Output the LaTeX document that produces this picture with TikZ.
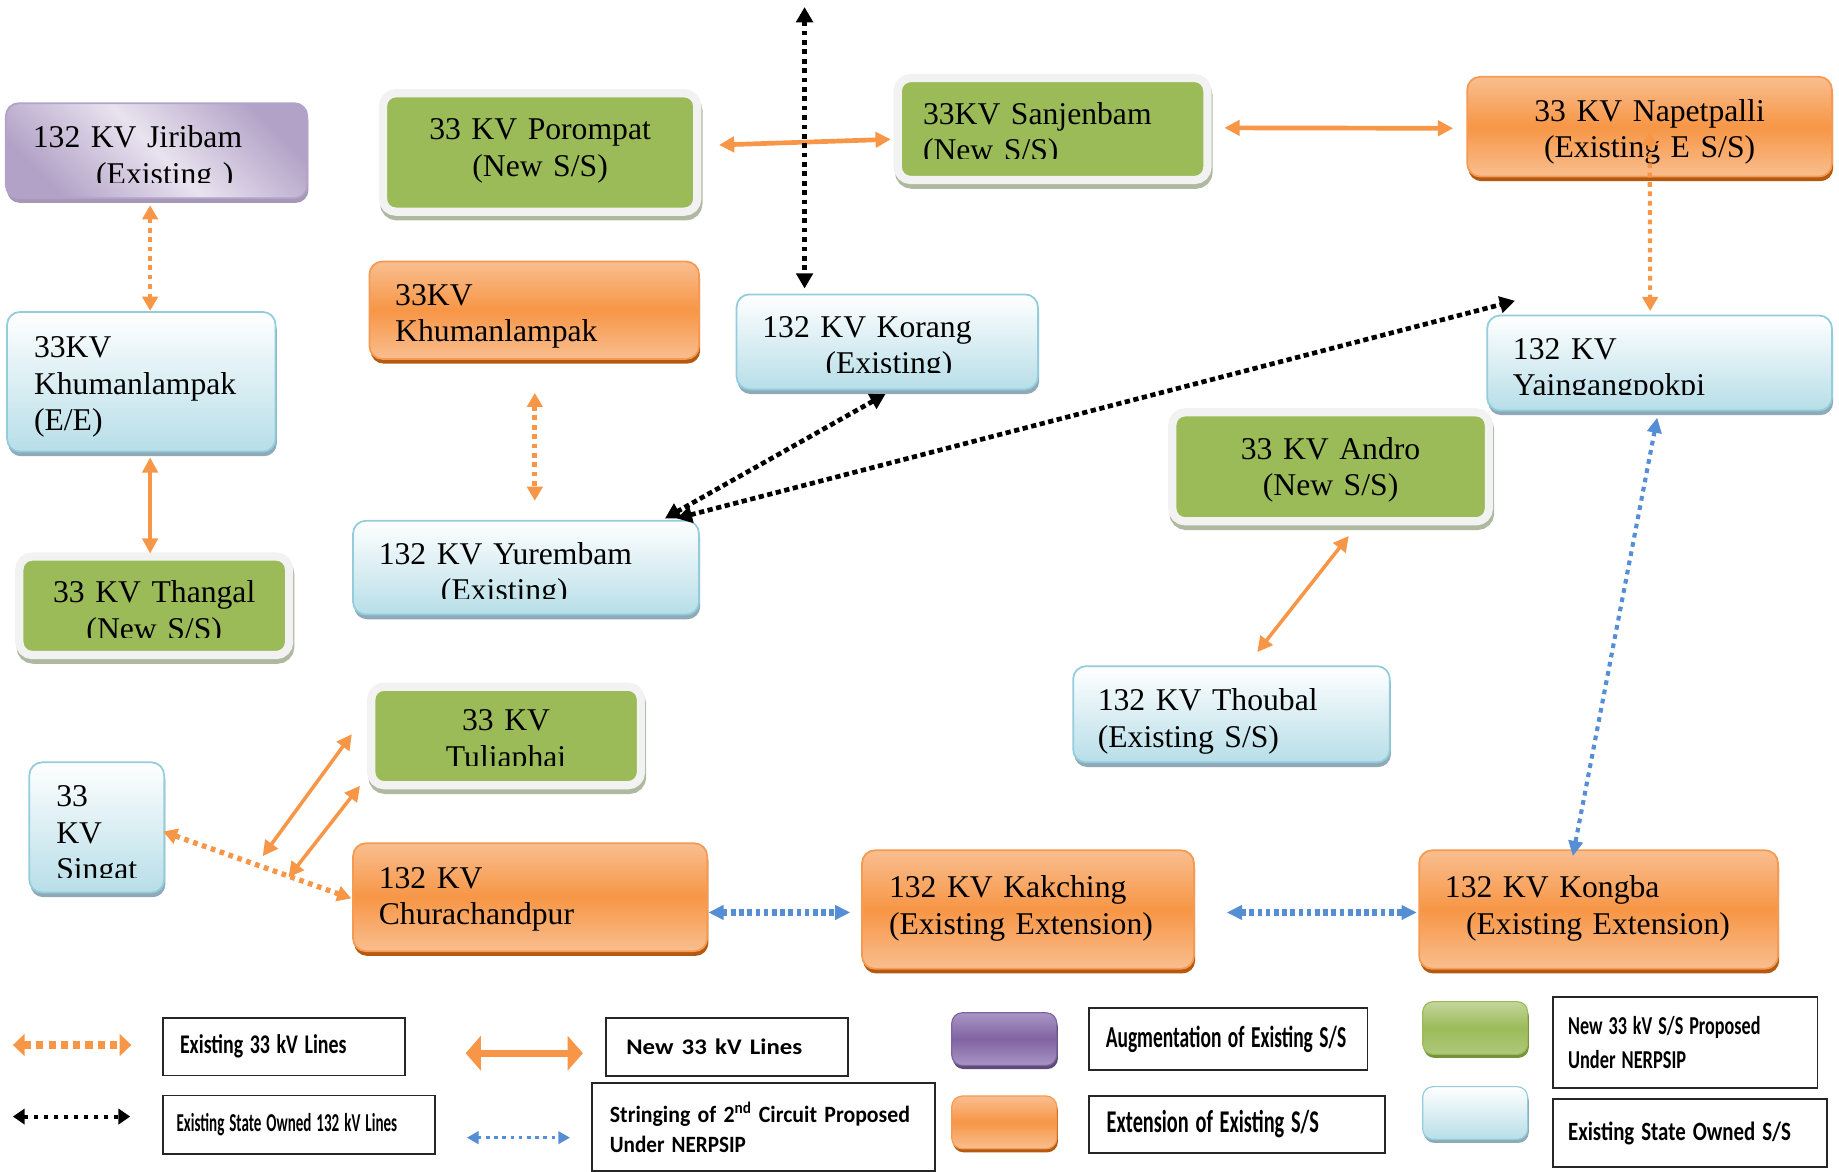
\documentclass[tikz,border=0pt]{standalone}
\usepackage{fontspec}
\setmainfont{Liberation Serif}
\newfontfamily\legfont{Carlito}
\usepackage{graphicx}
\usetikzlibrary{positioning,calc,arrows.meta,shadows}

\definecolor{augdark}{HTML}{B3A2C7}
\definecolor{auglight}{HTML}{E8E3EF}
\definecolor{augline}{HTML}{B3A2C7}
\definecolor{augshade}{HTML}{A597B6}
\definecolor{extmid}{HTML}{F79646}
\definecolor{extlight}{HTML}{F9BE8F}
\definecolor{extline}{HTML}{F59A50}
\definecolor{extshade}{HTML}{B35A10}
\definecolor{statebot}{HTML}{B7DEE8}
\definecolor{stateline}{HTML}{93CDDD}
\definecolor{stateshade}{HTML}{8FAAB6}
\definecolor{newgreen}{HTML}{9BBB59}
\definecolor{newframe}{HTML}{F2F2F2}
\definecolor{newshade}{HTML}{AEB9A0}
\definecolor{lineorange}{HTML}{F79646}
\definecolor{lineblue}{HTML}{558ED5}
\definecolor{swpurple}{HTML}{8064A2}
\definecolor{swpurplelt}{HTML}{A995C4}
\definecolor{swpurpledk}{HTML}{5F497A}
\definecolor{swgreenlt}{HTML}{C3D69B}
\definecolor{swgreendk}{HTML}{76923C}

\newcommand{\ssfont}{\fontsize{27}{31}\selectfont}
\newcommand{\legsq}[2]{\resizebox{#1}{\height}{#2}}

\tikzset{
  station/.style={rectangle, rounded corners=11pt, inner sep=0pt, outer sep=0pt},
  augss/.style={station, draw=augline, line width=1.5pt,
    left color=augdark, right color=augdark, middle color=auglight, shading angle=135,
    drop shadow={shadow xshift=1pt, shadow yshift=-4pt, fill=augshade, opacity=1}},
  extss/.style={station, draw=extline, line width=1.5pt,
    top color=extlight, bottom color=extlight, middle color=extmid,
    drop shadow={shadow xshift=1pt, shadow yshift=-4pt, fill=extshade, opacity=1}},
  statess/.style={station, draw=stateline, line width=1.5pt, top color=white, bottom color=statebot,
    drop shadow={shadow xshift=1pt, shadow yshift=-4pt, fill=stateshade, opacity=1}},
  newss/.style={station, fill=newgreen, draw=newframe, line width=7pt,
    drop shadow={shadow xshift=1pt, shadow yshift=-4pt, fill=newshade, draw=newshade,
      line width=7pt, opacity=1}},
  sslabel/.style={inner sep=0pt, font=\ssfont, align=left},
  exist33/.style={draw=lineorange, line width=4pt, dash pattern=on 4pt off 4pt,
    >={Triangle[width=13pt,length=12pt]}, <->},
  new33/.style={draw=lineorange, line width=3.5pt, >={Triangle[width=13pt,length=13pt]}, <->},
  state132/.style={draw=black, line width=4pt, dash pattern=on 4pt off 4pt,
    >={Triangle[width=14pt,length=13pt]}, <->},
  string2/.style={draw=lineblue, line width=4pt, dash pattern=on 4pt off 4pt,
    >={Triangle[width=12pt,length=13pt]}, <->},
  legbox/.style={rectangle, draw=black!85, line width=1.6pt, fill=white, inner ysep=0pt,
    outer sep=0pt, align=left, anchor=north west},
  swatch/.style={rectangle, rounded corners=9pt, anchor=north west, outer sep=0pt,
    line width=1pt, minimum width=89.5pt, minimum height=45pt},
}

\begin{document}
\begin{tikzpicture}[x=1pt, y=-1pt]
  \useasboundingbox (0,0) rectangle (1568,999);

  %%%%%%%%%%%%%%%%%%%%%%%%%%%%%%%%%%%%%%%%%%%%%%%%%%%%%%%%%%%%%%%%%%%%%%
  %%%%%%%%%%% substations
  %%%%%%%%%%%%%%%%%%%%%%%%%%%%%%%%%%%%%%%%%%%%%%%%%%%%%%%%%%%%%%%%%%%%%%

  % Jiribam
  \node[augss, minimum width=257pt, minimum height=81pt] (jiri) at (133.5,128.5) {};
  \begin{scope}
    \clip (jiri.north west) rectangle ($(jiri.east)+(0,27)$);
    \node[sslabel, text width=211pt] (jiri-t) at ([yshift=-6.5pt]jiri.center)
      {132 KV Jiribam\\\hspace*{54pt}(Existing )};
  \end{scope}

  % Porompat
  \node[newss, minimum width=268pt, minimum height=101pt] (poro) at (460.5,130) {};
  \node[sslabel, align=center, text width=240pt] (poro-t) at ([yshift=1.5pt]poro.center)
    {33 KV Porompat\\(New S/S)};

  % Sanjenbam
  \node[newss, minimum width=264pt, minimum height=87pt] (sanj) at (897.5,110) {};
  \begin{scope}
    \clip (sanj.north west) rectangle ($(sanj.east)+(0,25.5)$);
    \node[sslabel, text width=221pt] (sanj-t) at ([yshift=-5pt]sanj.center)
      {33KV Sanjenbam\\(New S/S)};
  \end{scope}

  % Napetpalli
  \node[extss, minimum width=311pt, minimum height=85pt] (napet) at (1406.5,108) {};
  \node[sslabel, align=center, text width=280pt] (napet-t) at ([yshift=-4.5pt]napet.center)
    {33 KV Napetpalli\\(Existing E S/S)};

  % Khumanlampak (extension)
  \node[extss, minimum width=281pt, minimum height=83pt] (khum) at (455.5,264.5) {};
  \node[sslabel, text width=237pt] (khum-t) at ([yshift=-5.5pt]khum.center)
    {33KV\\Khumanlampak};

  % Korang
  \node[statess, minimum width=257pt, minimum height=81pt] (korang) at (756.5,291.5) {};
  \begin{scope}
    \clip (korang.north west) rectangle ($(korang.east)+(0,26)$);
    \node[sslabel, text width=213pt] (korang-t) at ([yshift=-5.5pt]korang.center)
      {132 KV Korang\\\hspace*{54pt}(Existing)};
  \end{scope}

  % Yaingangpokpi
  \node[statess, minimum width=294pt, minimum height=81pt] (yaing) at (1415,309.5) {};
  \begin{scope}
    \clip (yaing.north west) rectangle ($(yaing.east)+(0,26.5)$);
    \node[sslabel, text width=250pt] (yaing-t) at ([yshift=-6.5pt]yaing.center)
      {132 KV\\Yaingangpokpi};
  \end{scope}

  % Khumanlampak (E/E)
  \node[statess, minimum width=229pt, minimum height=119pt] (khumee) at (120.5,325.5) {};
  \node[sslabel, text width=183pt] (khumee-t) at ([yshift=-4.4pt]khumee.center)
    {33KV\\Khumanlampak\\(E/E)};

  % Andro
  \node[newss, minimum width=270pt, minimum height=93pt] (andro) at (1134.5,398) {};
  \node[sslabel, align=center, text width=240pt] (andro-t) at ([yshift=-2.5pt]andro.center)
    {33 KV Andro\\(New S/S)};

  % Yurembam
  \node[statess, minimum width=295pt, minimum height=80pt] (yurem) at (448.5,484) {};
  \begin{scope}
    \clip (yurem.north west) rectangle ($(yurem.east)+(0,26.5)$);
    \node[sslabel, text width=251pt] (yurem-t) at ([yshift=-6pt]yurem.center)
      {132 KV Yurembam\\\hspace*{53pt}(Existing)};
  \end{scope}

  % Thangal
  \node[newss, minimum width=230pt, minimum height=84pt] (thang) at (131.5,516.5) {};
  \begin{scope}
    \clip (thang.north west) rectangle ($(thang.east)+(0,27)$);
    \node[sslabel, align=center, text width=210pt] (thang-t) at ([yshift=-6.5pt]thang.center)
      {33 KV Thangal\\(New S/S)};
  \end{scope}

  % Thoubal
  \node[statess, minimum width=270pt, minimum height=82pt] (thoub) at (1050,609) {};
  \node[sslabel, text width=228pt] (thoub-t) at ([yshift=-6pt]thoub.center)
    {132 KV Thoubal\\(Existing S/S)};

  % Tuliaphai
  \node[newss, minimum width=230pt, minimum height=84pt] (tuli) at (431.5,627.5) {};
  \begin{scope}
    \clip (tuli.north west) rectangle ($(tuli.east)+(0,25.5)$);
    \node[sslabel, align=center, text width=210pt] (tuli-t) at ([yshift=-5pt]tuli.center)
      {33 KV\\Tuliaphai};
  \end{scope}

  % Singat
  \node[statess, minimum width=115pt, minimum height=111pt] (singat) at (82.5,705.5) {};
  \begin{scope}
    \clip (singat.north west) rectangle ($(singat.east)+(0,42.5)$);
    \node[sslabel, text width=69pt] (singat-t) at ([yshift=-7.4pt]singat.center)
      {33\\KV\\Singat};
  \end{scope}

  % Churachandpur
  \node[extss, minimum width=302pt, minimum height=92pt] (chura) at (452,765) {};
  \node[sslabel, text width=258pt] (chura-t) at ([yshift=-2pt]chura.center)
    {132 KV\\Churachandpur};

  % Kakching
  \node[extss, minimum width=283pt, minimum height=101pt] (kakch) at (876.5,775.5) {};
  \node[sslabel, text width=237pt] (kakch-t) at ([yshift=1pt]kakch.center)
    {132 KV Kakching\\(Existing Extension)};

  % Kongba
  \node[extss, minimum width=306pt, minimum height=101pt] (kongba) at (1363,775.5) {};
  \node[sslabel, text width=262pt] (kongba-t) at ([yshift=1pt]kongba.center)
    {132 KV Kongba\\\hspace*{18pt}(Existing Extension)};

  %%%%%%%%%%%%%%%%%%%%%%%%%%%%%%%%%%%%%%%%%%%%%%%%%%%%%%%%%%%%%%%%%%%%%%
  %%%%%%%%%%% lines
  %%%%%%%%%%%%%%%%%%%%%%%%%%%%%%%%%%%%%%%%%%%%%%%%%%%%%%%%%%%%%%%%%%%%%%

  % line between Jiribam and Khumanlampak (E/E)
  \draw[exist33] ([xshift=-5.5pt,yshift=-6pt]jiri.south) -- ([xshift=7.5pt,yshift=1pt]khumee.north);

  % line between Khumanlampak (E/E) and Thangal
  \draw[new33] ([xshift=7.5pt,yshift=-5pt]khumee.south) -- ([xshift=-3.5pt,yshift=2.5pt]thang.north);

  % line between Khumanlampak and Yurembam
  \draw[exist33] ([xshift=0.5pt,yshift=-29pt]khum.south) -- ([xshift=7.5pt,yshift=17pt]yurem.north);

  % line between Porompat and Sanjenbam
  \draw[new33, line width=4pt] ([xshift=18.5pt,yshift=6.4pt]poro.east) -- ([xshift=-6pt,yshift=-8.8pt]sanj.west);

  % line between Sanjenbam and Napetpalli
  \draw[new33, line width=4pt] ([xshift=14.5pt,yshift=1pt]sanj.east) -- ([xshift=-12pt,yshift=-1.4pt]napet.west);

  % line between Napetpalli and Yaingangpokpi
  \draw[exist33, line width=3.5pt] ([yshift=-4pt]napet.center) -- ([xshift=-8pt,yshift=3.8pt]yaing.north);

  % line between Andro and Thoubal
  \draw[new33, line width=3pt] ([xshift=15.5pt,yshift=-12.5pt]andro.south) -- ([xshift=22pt,yshift=12pt]thoub.north);

  % lines between Tuliaphai and Churachandpur
  \draw[new33, line width=3pt] ([xshift=-16.5pt,yshift=1.5pt]tuli.west) -- ([xshift=-77pt,yshift=35pt]chura.west);
  \draw[new33, line width=3pt] ([xshift=-9.5pt,yshift=-0.5pt]tuli.south west) -- ([xshift=-55pt,yshift=17pt]chura.west);

  % line between Singat and Churachandpur
  \draw[exist33, line width=4.5pt] ([xshift=-1pt,yshift=-3.5pt]singat.east) -- ([xshift=-1.5pt,yshift=-1pt]chura.west);

  % 132 kV line leaving Korang to the north
  \coordinate (korang-up) at (686,6);
  \draw[state132] (korang-up) -- ([xshift=-70.5pt,yshift=5pt]korang.north);

  % line between Korang and Yurembam
  \draw[state132, dash pattern=on 4.5pt off 3pt] ([xshift=-1.5pt,yshift=-4pt]korang.south) -- ([xshift=118.5pt,yshift=2pt]yurem.north);

  % line between Yurembam and Yaingangpokpi
  \draw[state132, dash pattern=on 4.5pt off 3pt] ([xshift=128.5pt,yshift=2pt]yurem.north) -- ([xshift=23.8pt,yshift=12.5pt]yaing.north west);

  % line between Yaingangpokpi and Kongba
  \draw[string2, line width=3.5pt] ([xshift=-2pt,yshift=-6pt]yaing.south) -- ([xshift=-22pt,yshift=-5pt]kongba.north);

  % line between Churachandpur and Kakching
  \draw[string2, line width=6pt, dash pattern=on 4pt off 3pt] ([xshift=1pt,yshift=-13pt]chura.east) -- ([xshift=-10pt,yshift=-2.5pt]kakch.west);

  % line between Kakching and Kongba
  \draw[string2, line width=6pt, dash pattern=on 4pt off 3pt] ([xshift=28pt,yshift=-2.5pt]kakch.east) -- ([xshift=-2pt,yshift=-2.5pt]kongba.west);

  %%%%%%%%%%%%%%%%%%%%%%%%%%%%%%%%%%%%%%%%%%%%%%%%%%%%%%%%%%%%%%%%%%%%%%
  %%%%%%%%%%% legend
  %%%%%%%%%%%%%%%%%%%%%%%%%%%%%%%%%%%%%%%%%%%%%%%%%%%%%%%%%%%%%%%%%%%%%%

  % existing 33 kV
  \coordinate (lg-ex-a) at (11,891);
  \coordinate (lg-ex-b) at (112,891);
  \draw[exist33, line width=6pt, dash pattern=on 6pt off 4.5pt,
    >={Triangle[width=18.5pt,length=10pt]}, <->] (lg-ex-a) -- (lg-ex-b);
  \node[legbox, minimum width=206pt, minimum height=49pt, text width=177pt, inner xsep=14.5pt,
    font={\legfont\bfseries\fontsize{23}{27}\selectfont}] (lg-ex) at (139,868)
    {\legsq{142pt}{Existing 33 kV Lines}};

  % new 33 kV
  \coordinate (lg-new-a) at (397,898);
  \coordinate (lg-new-b) at (497,898);
  \draw[new33, line width=6pt, >={Triangle[width=29pt,length=13pt]}, <->] (lg-new-a) -- (lg-new-b);
  \node[legbox, minimum width=206pt, minimum height=49.5pt, text width=172pt, inner xsep=17pt,
    font={\legfont\bfseries\fontsize{19}{23}\selectfont}] (lg-new) at (517,868)
    {\legsq{150pt}{New 33 kV Lines}};

  % state owned 132 kV
  \coordinate (lg-st-a) at (11,952);
  \coordinate (lg-st-b) at (111,952);
  \draw[state132, line width=3.5pt, dash pattern=on 3.5pt off 5pt,
    >={Triangle[width=13pt,length=10pt]}, <->] (lg-st-a) -- (lg-st-b);
  \node[legbox, minimum width=232pt, minimum height=50pt, text width=208.8pt, inner xsep=11.6pt,
    font={\legfont\bfseries\fontsize{22}{26}\selectfont}] (lg-st) at (139,934)
    {\legsq{188pt}{Existing State Owned 132 kV Lines}};

  % second circuit
  \coordinate (lg-2nd-a) at (398,970);
  \coordinate (lg-2nd-b) at (486,970);
  \draw[string2, line width=2.8pt, dash pattern=on 3pt off 4pt,
    >={Triangle[width=10.5pt,length=10pt]}, <->] (lg-2nd-a) -- (lg-2nd-b);
  \node[legbox, minimum width=292.5pt, minimum height=75pt, text width=261.5pt, inner xsep=15.5pt,
    font={\legfont\bfseries\fontsize{19.9}{25.6}\selectfont}] (lg-2nd) at (504.5,923.5)
    {\legsq{256pt}{Stringing of 2\textsuperscript{nd} Circuit Proposed}\\\legsq{116pt}{Under NERPSIP}};

  % augmentation
  \node[swatch, draw=swpurple, top color=swpurplelt, bottom color=swpurplelt, middle color=swpurple,
    drop shadow={shadow xshift=1pt, shadow yshift=-3pt, fill=swpurpledk, opacity=1}] (sw-aug) at (811.5,863.5) {};
  \node[legbox, minimum width=237.2pt, minimum height=52.6pt, text width=209.2pt, inner xsep=14pt,
    font={\legfont\bfseries\fontsize{26}{30}\selectfont}] (lg-aug) at (928.8,859.8)
    {\legsq{205pt}{Augmentation of Existing S/S}};

  % extension
  \node[swatch, draw=extline, top color=extlight, bottom color=extlight, middle color=extmid,
    drop shadow={shadow xshift=1pt, shadow yshift=-3pt, fill=extshade, opacity=1}] (sw-ext) at (811.5,934.5) {};
  \node[legbox, minimum width=252.2pt, minimum height=48.5pt, text width=222.6pt, inner xsep=14.8pt,
    font={\legfont\bfseries\fontsize{27}{31}\selectfont}] (lg-ext) at (928.8,934.5)
    {\legsq{181pt}{Extension of Existing S/S}};

  % new S/S
  \node[swatch, draw=newgreen, top color=swgreenlt, bottom color=newgreen!80!white, middle color=newgreen,
    drop shadow={shadow xshift=1pt, shadow yshift=-3pt, fill=swgreendk, opacity=1}] (sw-new) at (1213,854) {};
  \node[legbox, minimum width=225.6pt, minimum height=77.6pt, text width=199.6pt, inner xsep=13pt,
    font={\legfont\bfseries\fontsize{22}{29}\selectfont}] (lg-nss) at (1324,850.4)
    {\legsq{164pt}{New 33 kV S/S Proposed}\\\legsq{100.7pt}{Under NERPSIP}};

  % state owned S/S
  \node[swatch, draw=stateline, top color=white, bottom color=statebot,
    drop shadow={shadow xshift=1pt, shadow yshift=-3pt, fill=stateshade, opacity=1}] (sw-st) at (1213,926.5) {};
  \node[legbox, minimum width=234pt, minimum height=58pt, text width=208pt, inner xsep=13pt,
    font={\legfont\bfseries\fontsize{22.5}{27}\selectfont}] (lg-sss) at ([yshift=2pt]1324,939)
    {\legsq{190pt}{Existing State Owned S/S}};

\end{tikzpicture}
\end{document}
